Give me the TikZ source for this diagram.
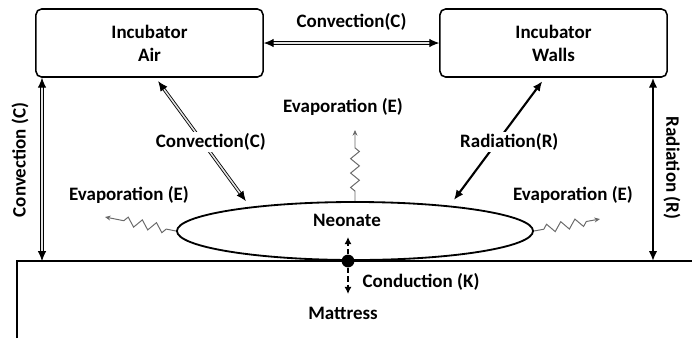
\documentclass[tikz,border=0pt]{standalone}
\usepackage{fontspec}
\setmainfont{Carlito}
\usetikzlibrary{arrows.meta, positioning, shapes.geometric, decorations.pathmorphing}
\definecolor{evapgray}{HTML}{6A6A6A}
\definecolor{convgray}{HTML}{E4E4E4}

\tikzset{
  lbl/.style={font=\fontsize{13.5}{16.3}\selectfont\bfseries, align=center},
  incubox/.style={draw, lbl, rounded corners=4pt, line width=1.1pt, minimum width=5.675cm, minimum height=1.7cm},
  convarrow/.style={double=convgray, double distance=1.1pt, line width=0.6pt, {Latex[length=7pt,width=6pt]}-{Latex[length=7pt,width=6pt]}},
  radarrow/.style={line width=1.5pt, {Latex[length=7pt,width=6pt]}-{Latex[length=7pt,width=6pt]}},
  evaparrow/.style={evapgray, line width=0.7pt, -{Stealth[length=4pt,width=3.5pt]},
    decorate, decoration={zigzag, segment length=0.36cm, amplitude=0.11cm, pre length=0.25cm, post length=0.3cm}},
  condarrow/.style={line width=1.5pt, dash pattern=on 4pt off 2pt, -{Latex[length=5pt,width=5pt]}}
}

\begin{document}
\begin{tikzpicture}[x=0.025cm, y=-0.025cm]
  \useasboundingbox (0,0) rectangle (692,338);

  % Incubator boxes
  \node[incubox] (air) at (149.5,43) {Incubator\\Air};
  \node[incubox] (walls) at (553.5,43) {Incubator\\Walls};

  % Mattress
  \draw[line width=1.1pt] (17,338) -- (17,261) -- (692,261);
  \coordinate (grL) at (42,261);
  \coordinate (grR) at (653,261);

  % Neonate
  \node[draw, ellipse, line width=1.3pt, minimum width=8.9cm, minimum height=1.45cm, inner sep=0pt,
        label={[lbl, xshift=-0.2cm, yshift=0.27cm]center:Neonate}] (neonate) at (355,231) {};
  \node[circle, fill=black, inner sep=0pt, minimum size=0.32cm] (dot) at (348,261) {};

  % Convection
  \draw[convarrow] (air) -- node[lbl, above=5pt] {Convection(C)} (walls);
  \draw[convarrow] (air.south west -| grL) -- (grL);
  \node[lbl, rotate=90] (convleft) at (20,160) {Convection (C)};
  \draw[convarrow, shorten <=3pt, shorten >=5pt] (air.-80) -- node[lbl, fill=white, inner sep=1pt, pos=0.5, xshift=0.2cm] {Convection(C)} (neonate.167);

  % Radiation
  \draw[radarrow] (walls.south east -| grR) -- (grR);
  \node[lbl, rotate=-90] (radright) at (672,168) {Radiation (R)};
  \draw[radarrow, shorten <=3pt, shorten >=5pt] (walls.-104) -- node[lbl, fill=white, inner sep=1pt, pos=0.5, xshift=0.3cm] {Radiation(R)} (neonate.15);

  % Evaporation
  \coordinate (evL) at (105,217);
  \coordinate (evT) at (355,130);
  \coordinate (evR) at (600,219);
  \draw[evaparrow] (neonate.west) -- (evL);
  \draw[evaparrow] (neonate.north) -- (evT);
  \draw[evaparrow] (neonate.east) -- (evR);
  \node[lbl] (evlabL) at (129,195) {Evaporation (E)};
  \node[lbl] (evlabT) at (343,107) {Evaporation (E)};
  \node[lbl] (evlabR) at (573,195) {Evaporation (E)};

  % Conduction
  \coordinate (cu) at (348,237);
  \coordinate (cd) at (348,294);
  \draw[condarrow] (dot) -- (cu);
  \draw[condarrow] (dot) -- (cd);
  \node[lbl] (condlab) at (421,282) {Conduction (K)};
  \node[lbl] (mattress) at (343,313) {Mattress};
\end{tikzpicture}
\end{document}
